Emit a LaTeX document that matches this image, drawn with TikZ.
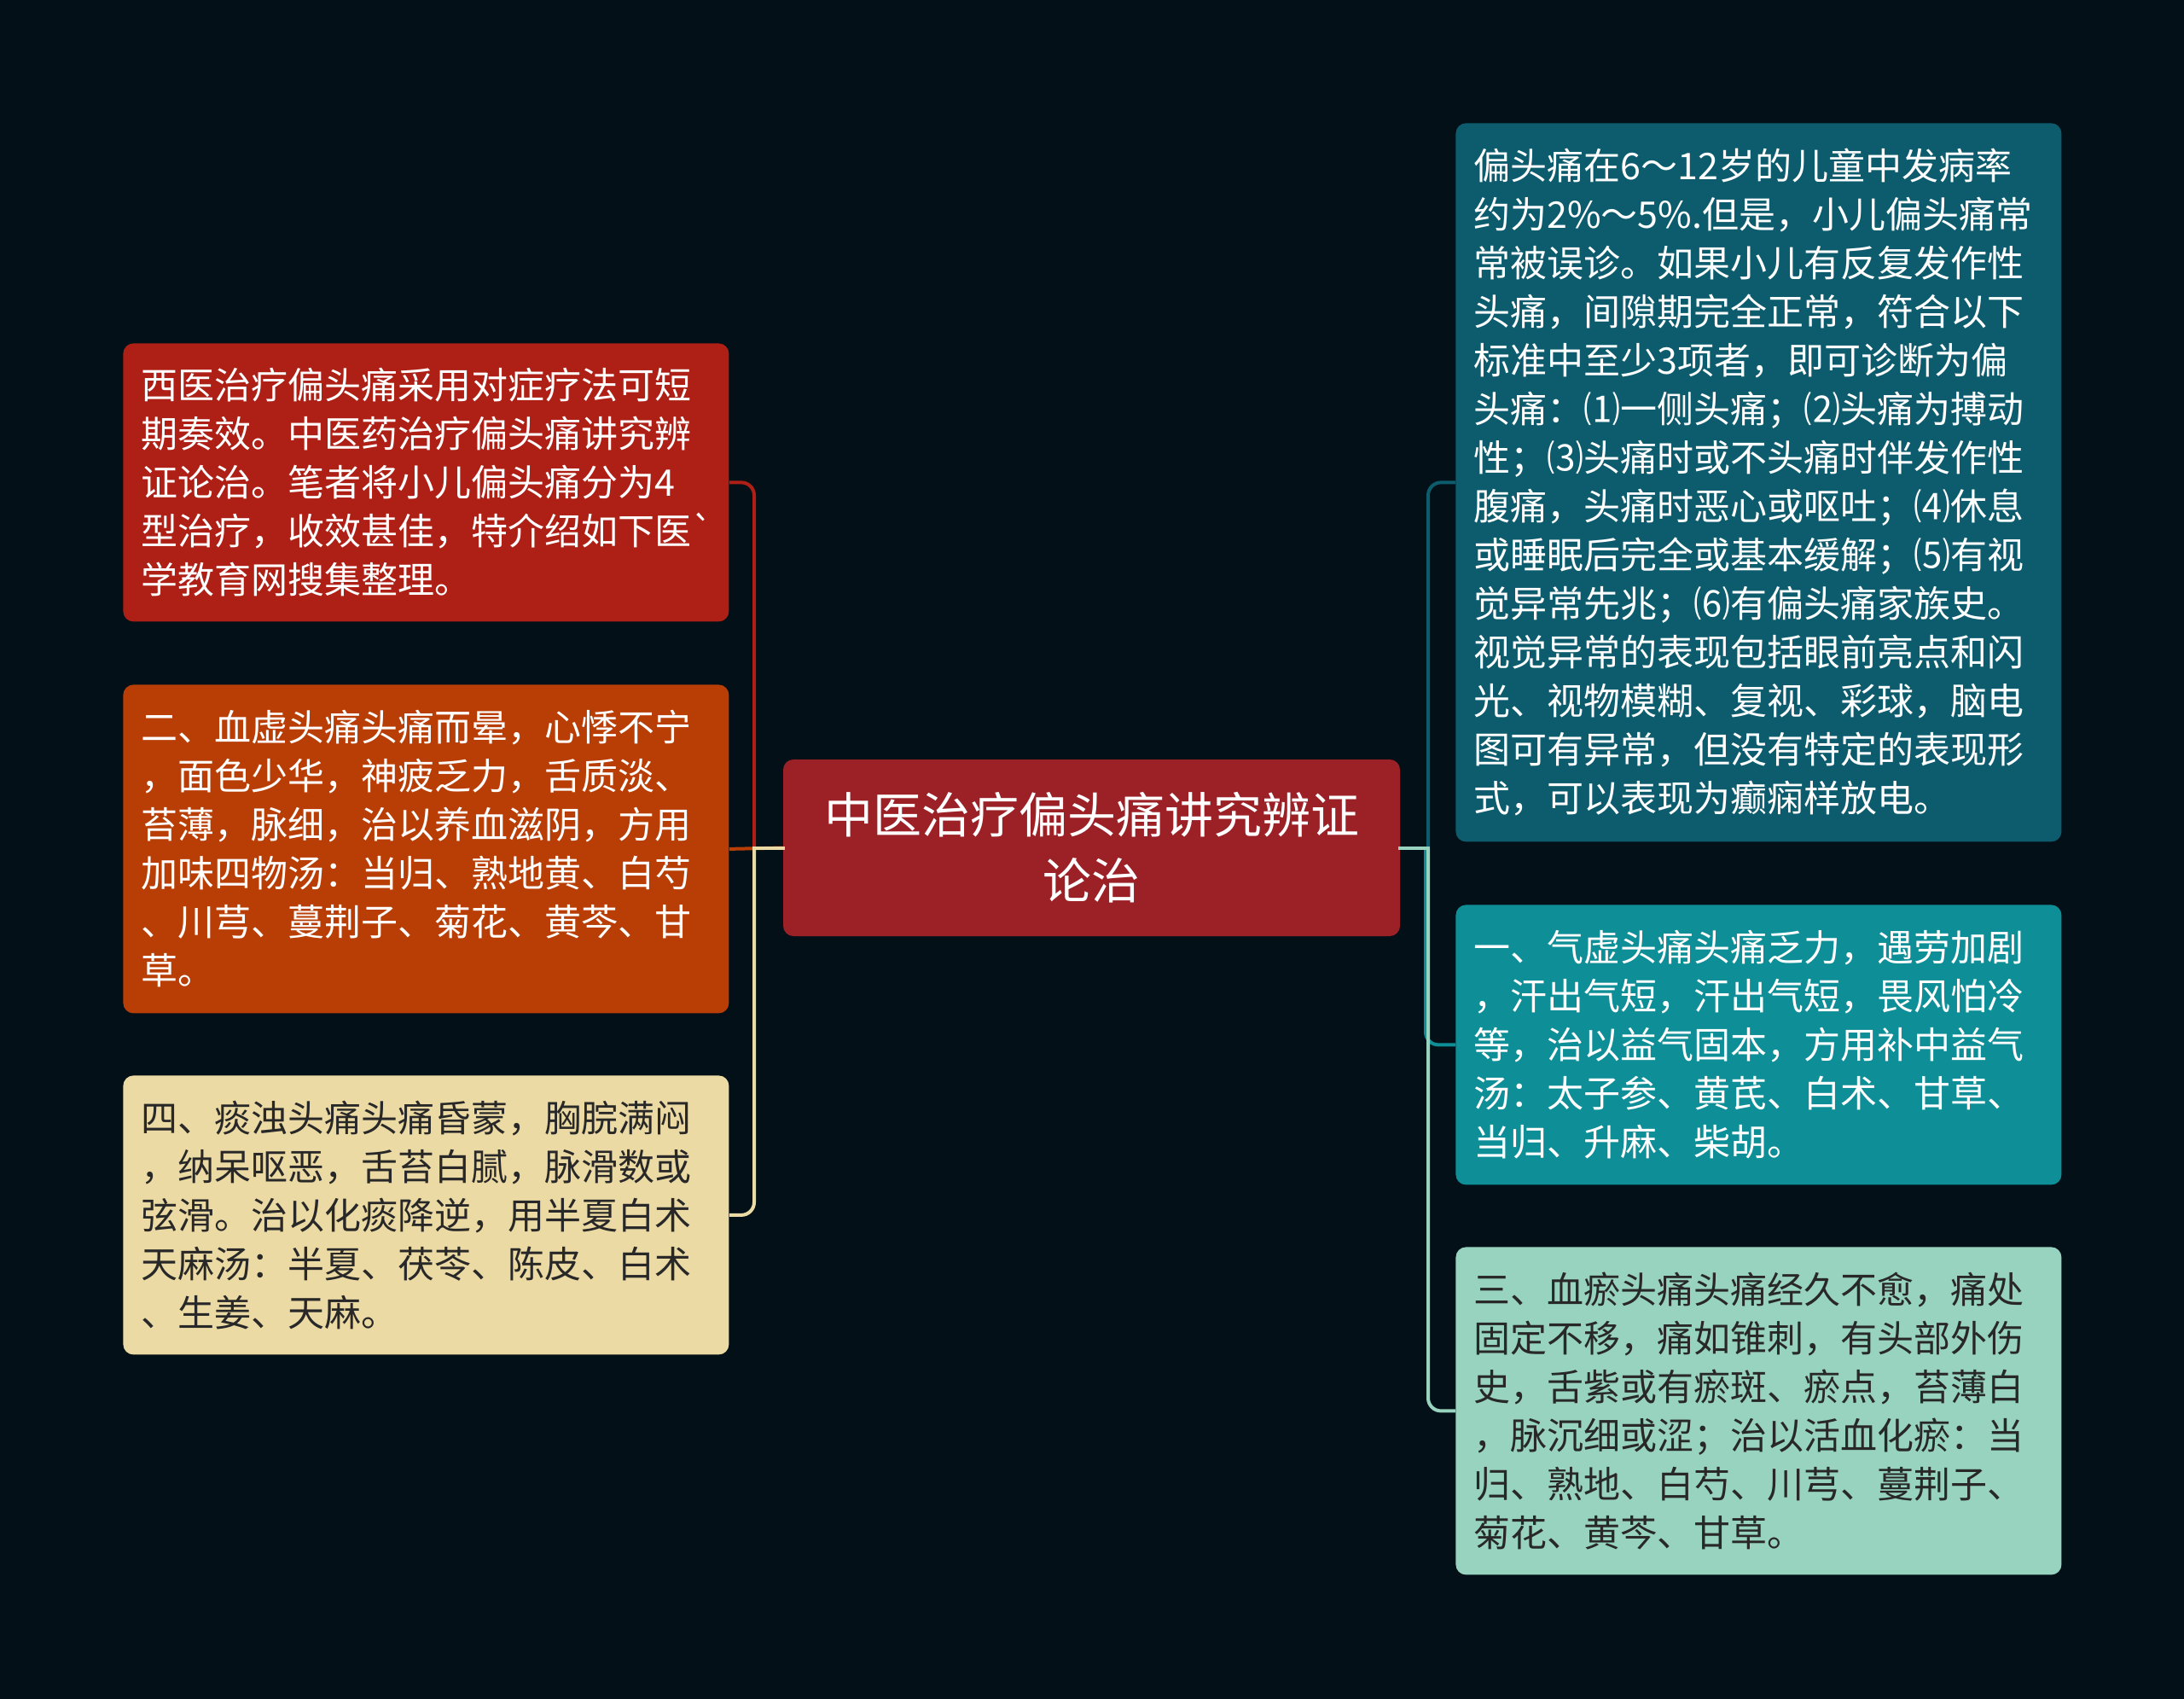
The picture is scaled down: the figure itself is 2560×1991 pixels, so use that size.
\documentclass[tikz,border=0pt]{standalone}
\usepackage{fontspec}
\newfontfamily\cjk{Noto Sans CJK SC}
\definecolor{bg}{RGB}{3,16,24}
\definecolor{cRed}{RGB}{174,32,22}
\definecolor{cOrange}{RGB}{184,62,6}
\definecolor{cBeige}{RGB}{236,218,164}
\definecolor{cCenter}{RGB}{155,33,38}
\definecolor{cDTeal}{RGB}{13,92,110}
\definecolor{cTeal}{RGB}{14,142,150}
\definecolor{cGreen}{RGB}{151,211,190}
\definecolor{cText}{RGB}{40,40,40}
\tikzset{
  box/.style={rounded corners=6pt, inner xsep=10.5pt, inner ysep=0pt, align=left,
    text width=334pt, minimum width=355pt, anchor=north west,
    font=\cjk\fontsize{21.5pt}{28.5pt}\selectfont},
  conn/.style={line width=2pt},
  branchline/.style={line width=2pt, rounded corners=7.5pt}
}
\begin{document}
\begin{tikzpicture}[x=0.5pt,y=-0.5pt]
\fill[bg] (0,0) rectangle (2560,1991);
\useasboundingbox (0,0) rectangle (2560,1991);

\node[rounded corners=6pt, fill=cCenter, text=white, minimum width=361.5pt, minimum height=103.5pt,
  align=center, font=\cjk\fontsize{28.5pt}{38.5pt}\selectfont] (c) at (1279.5,993.5)
  {中医治疗偏头痛讲究辨证\\论治};

\node[box, fill=cRed, text=white, minimum height=163pt] (l1) at (144,402)
  {西医治疗偏头痛采用对症疗法可短\\期奏效。中医药治疗偏头痛讲究辨\\证论治。笔者将小儿偏头痛分为4\\型治疗，收效甚佳，特介绍如下医\char"60\\学教育网搜集整理。};
\node[box, fill=cOrange, text=white, minimum height=192.5pt] (l2) at (144,802)
  {二、血虚头痛头痛而晕，心悸不宁\\，面色少华，神疲乏力，舌质淡、\\苔薄，脉细，治以养血滋阴，方用\\加味四物汤：当归、熟地黄、白芍\\、川芎、蔓荆子、菊花、黄芩、甘\\草。};
\node[box, fill=cBeige, text=cText, minimum height=163.5pt] (l3) at (144,1260)
  {四、痰浊头痛头痛昏蒙，胸脘满闷\\，纳呆呕恶，舌苔白腻，脉滑数或\\弦滑。治以化痰降逆，用半夏白术\\天麻汤：半夏、茯苓、陈皮、白术\\、生姜、天麻。};

\node[box, fill=cDTeal, text=white, minimum height=421pt] (r1) at (1706,144)
  {偏头痛在6～12岁的儿童中发病率\\约为2\%～5\%.但是，小儿偏头痛常\\常被误诊。如果小儿有反复发作性\\头痛，间隙期完全正常，符合以下\\标准中至少3项者，即可诊断为偏\\头痛：⑴一侧头痛；⑵头痛为搏动\\性；⑶头痛时或不头痛时伴发作性\\腹痛，头痛时恶心或呕吐；⑷休息\\或睡眠后完全或基本缓解；⑸有视\\觉异常先兆；⑹有偏头痛家族史。\\视觉异常的表现包括眼前亮点和闪\\光、视物模糊、复视、彩球，脑电\\图可有异常，但没有特定的表现形\\式，可以表现为癫痫样放电。};
\node[box, fill=cTeal, text=white, minimum height=164pt] (r2) at (1706,1060)
  {一、气虚头痛头痛乏力，遇劳加剧\\，汗出气短，汗出气短，畏风怕冷\\等，治以益气固本，方用补中益气\\汤：太子参、黄芪、白术、甘草、\\当归、升麻、柴胡。};
\node[box, fill=cGreen, text=cText, minimum height=192pt] (r3) at (1706,1461)
  {三、血瘀头痛头痛经久不愈，痛处\\固定不移，痛如锥刺，有头部外伤\\史，舌紫或有瘀斑、瘀点，苔薄白\\，脉沉细或涩；治以活血化瘀：当\\归、熟地、白芍、川芎、蔓荆子、\\菊花、黄芩、甘草。};

\coordinate (lj) at (884,993.5);
\coordinate (rj) at (1674,993.5);
\coordinate (rjt) at (1671,993.5);

% left branches
\draw[conn, cOrange] (c.west) -- (l2.east);
\draw[branchline, cRed] (lj) -- (lj |- l1.east) -- (l1.east);
\draw[branchline, cBeige] (lj) -- (lj |- l3.east) -- (l3.east);
\draw[conn, cBeige, line cap=rect] (c.west) -- (lj);

% right branches
\draw[branchline, cDTeal] (rj) -- (rj |- r1.west) -- (r1.west);
\draw[branchline, cTeal] (rjt) -- (rjt |- r2.west) -- (r2.west);
\draw[branchline, cGreen] (rj) -- (rj |- r3.west) -- (r3.west);
\draw[conn, cGreen, line cap=rect] (c.east) -- (rj);
\end{tikzpicture}
\end{document}
